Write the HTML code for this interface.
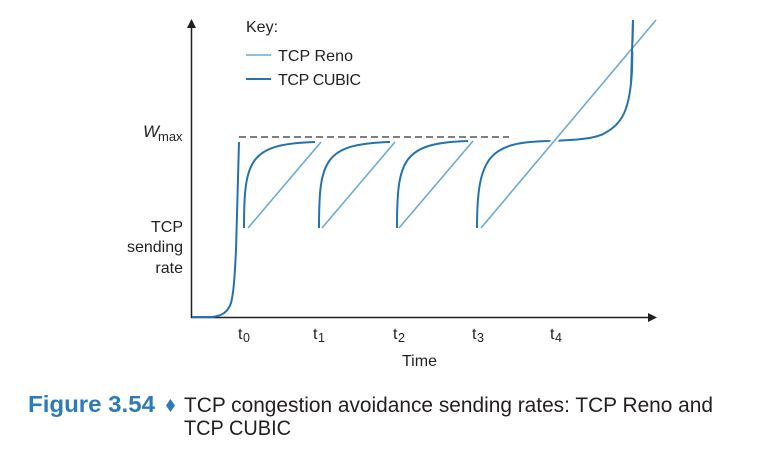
<!DOCTYPE html>
<html><head><meta charset="utf-8"><style>
html,body{margin:0;padding:0;background:#fff;}
svg{display:block;}
text{font-family:"Liberation Sans",sans-serif;fill:#231f20;}
</style></head><body>
<svg width="760" height="467" viewBox="0 0 760 467" xmlns="http://www.w3.org/2000/svg">
<!-- axes -->
<line x1="191.5" y1="318" x2="191.5" y2="27" stroke="#231f20" stroke-width="1.5"/>
<polygon points="191.5,19 187,28 196,28" fill="#231f20"/>
<line x1="191" y1="317.5" x2="649" y2="317.5" stroke="#231f20" stroke-width="1.5"/>
<polygon points="657,317.5 648,313 648,322" fill="#231f20"/>
<!-- dashed wmax -->
<line x1="239" y1="137" x2="509" y2="137" stroke="#555" stroke-width="1.5" stroke-dasharray="7,4"/>
<!-- legend -->
<text x="246" y="32" font-size="16">Key:</text>
<line x1="246" y1="55" x2="271" y2="55" stroke="#6aaad6" stroke-width="1.5"/>
<text x="278" y="61" font-size="16" textLength="75">TCP Reno</text>
<line x1="246" y1="79" x2="271" y2="79" stroke="#2472b0" stroke-width="2"/>
<text x="278" y="85" font-size="16" textLength="83">TCP CUBIC</text>
<!-- Reno lines -->
<g stroke="#6aaad6" stroke-width="1.6" fill="none">
<line x1="248" y1="228" x2="321" y2="142"/>
<line x1="322" y1="228" x2="395" y2="142"/>
<line x1="399" y1="228" x2="473" y2="141"/>
</g>
<!-- CUBIC -->
<g stroke="#2472b0" stroke-width="2" fill="none">
<path d="M192,317 L212,317 C222,316 228,312 231,303 C234,292 235,270 236,250 L239,142"/>
<path d="M244,228 C244,160 249,144 315,142"/>
<path d="M319,228 C319,160 324,144 390,142"/>
<path d="M397,228 C397,160 402,143 468,141"/>
<path d="M477,228 C477,155 490,142 550,141 C575,140 595,139 605,133 C622,124 630,110 632,70 L633,20"/>
</g>
<!-- Reno last with halo -->
<line x1="481" y1="228" x2="656" y2="20" stroke="#fff" stroke-width="6"/>
<line x1="481" y1="228" x2="656" y2="20" stroke="#6aaad6" stroke-width="1.6"/>
<path d="M631,83 L633,20" stroke="#2472b0" stroke-width="2" fill="none"/>
<!-- y labels -->
<text x="143" y="137" font-size="17" font-style="italic" textLength="15">W</text>
<text x="158" y="141" font-size="13">max</text>
<text x="183" y="232" font-size="16" text-anchor="end">TCP</text>
<text x="183" y="252" font-size="16" text-anchor="end">sending</text>
<text x="183" y="273" font-size="16" text-anchor="end">rate</text>
<!-- x tick labels -->
<text x="238" y="339" font-size="16">t</text><text x="243" y="342" font-size="12.5">0</text>
<text x="313" y="339" font-size="16">t</text><text x="318" y="342" font-size="12.5">1</text>
<text x="393" y="339" font-size="16">t</text><text x="398" y="342" font-size="12.5">2</text>
<text x="472" y="339" font-size="16">t</text><text x="477" y="342" font-size="12.5">3</text>
<text x="550" y="339" font-size="16">t</text><text x="555" y="342" font-size="12.5">4</text>
<text x="402" y="366" font-size="16">Time</text>
<!-- caption -->
<text x="28" y="412" font-size="23" font-weight="bold" style="fill:#2d7bbd" textLength="127" lengthAdjust="spacingAndGlyphs">Figure 3.54</text>
<polygon points="170.5,399 175,405.5 170.5,412 166,405.5" fill="#2d7bbd"/>
<text x="184" y="412" font-size="21" textLength="529" lengthAdjust="spacingAndGlyphs">TCP congestion avoidance sending rates: TCP Reno and</text>
<text x="184" y="435" font-size="21" textLength="107" lengthAdjust="spacingAndGlyphs">TCP CUBIC</text>
</svg>
</body></html>
